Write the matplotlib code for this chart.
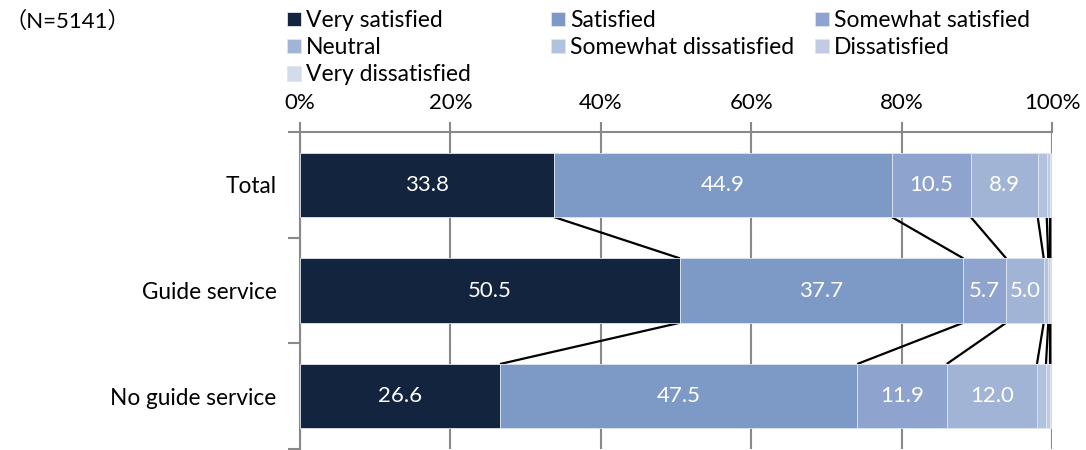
import numpy as np
import matplotlib.pyplot as plt

plt.rcParams['font.family'] = ['Lato', 'Noto Sans CJK JP', 'DejaVu Sans']

groups = ['Total', 'Guide service', 'No guide service']
answers = ['Very satisfied', 'Satisfied', 'Somewhat satisfied', 'Neutral',
           'Somewhat dissatisfied', 'Dissatisfied', 'Very dissatisfied']
very_satisfied = [33.8, 50.5, 26.6]
satisfied = [44.9, 37.7, 47.5]
somewhat_satisfied = [10.5, 5.7, 11.9]
neutral = [8.9, 5.0, 12.0]
somewhat_dissatisfied = [1.2, 0.6, 1.2]
dissatisfied = [0.5, 0.3, 0.6]
very_dissatisfied = [0.2, 0.2, 0.2]

colors = ['#13243f', '#7d99c6', '#8ea4ce', '#a2b4d6', '#b2c1de', '#c1cce4', '#d3dbec']

data = np.array([very_satisfied, satisfied, somewhat_satisfied, neutral,
                 somewhat_dissatisfied, dissatisfied, very_dissatisfied])

fig = plt.figure(figsize=(10.86, 4.5), dpi=100)
ax = fig.add_axes([300/1086, 0.002, 752/1086, 1 - 132/450 - 0.002])

y = np.arange(len(groups))
h = 0.61
left = np.zeros(len(groups))
bars = []
for k in range(len(answers)):
    b = ax.barh(y, data[k], h, left=left, color=colors[k], label=answers[k],
                edgecolor='#dfe5f0', linewidth=0.6, zorder=3)
    bars.append(b)
    if k < 4:
        for i in range(len(groups)):
            ax.text(left[i] + data[k][i] / 2, y[i], '{:.1f}'.format(data[k][i]),
                    ha='center', va='center', color='white', fontsize=16, zorder=4)
    left = left + data[k]

# connector lines between bars
cum = np.cumsum(data, axis=0)
for k in range(len(answers) - 1):
    for i in range(len(groups) - 1):
        ax.plot([cum[k][i], cum[k][i + 1]], [y[i] + h / 2, y[i + 1] - h / 2],
                color='black', lw=1.6, zorder=2, solid_capstyle='butt')

ax.set_xlim(0, 100)
ax.set_ylim(2.5, -0.5)
ax.set_xticks(np.arange(0, 101, 20))
ax.set_xticklabels(['{}%'.format(v) for v in range(0, 101, 20)], fontsize=16)
ax.xaxis.tick_top()
ax.tick_params(axis='x', length=7, width=1.5, color='#898989', pad=7)
ax.set_yticks(y)
ax.set_yticklabels(groups, fontsize=16.3)
ax.tick_params(axis='y', which='major', length=0, pad=17)
ax.set_yticks([-0.5, 0.5, 1.5, 2.5], minor=True)
ax.tick_params(axis='y', which='minor', length=9, width=1.5, color='#898989')
ax.grid(axis='x', color='#898989', lw=1.5, zorder=0)
for s in ['right', 'bottom']:
    ax.spines[s].set_visible(False)
for s in ['top', 'left']:
    ax.spines[s].set_color('#898989')
    ax.spines[s].set_linewidth(1.5)

# legend: three equal-width columns, filled row by row
cols = [[0, 3, 6], [1, 4], [2, 5]]
col_x = [287, 551, 815]
for c, idx in enumerate(cols):
    fig.legend([bars[i] for i in idx], [answers[i] for i in idx],
               loc='upper left', bbox_to_anchor=(col_x[c]/1086, 1 - 10/450),
               frameon=False, fontsize=16.5, handlelength=0.6, handleheight=0.6,
               handletextpad=0.22, labelspacing=0.27, borderaxespad=0, borderpad=0)

fig.text(5/1086, 1 - 21/450, '（N=5141）', fontsize=16, va='center', ha='left')

fig.savefig('out.png', dpi=100)
